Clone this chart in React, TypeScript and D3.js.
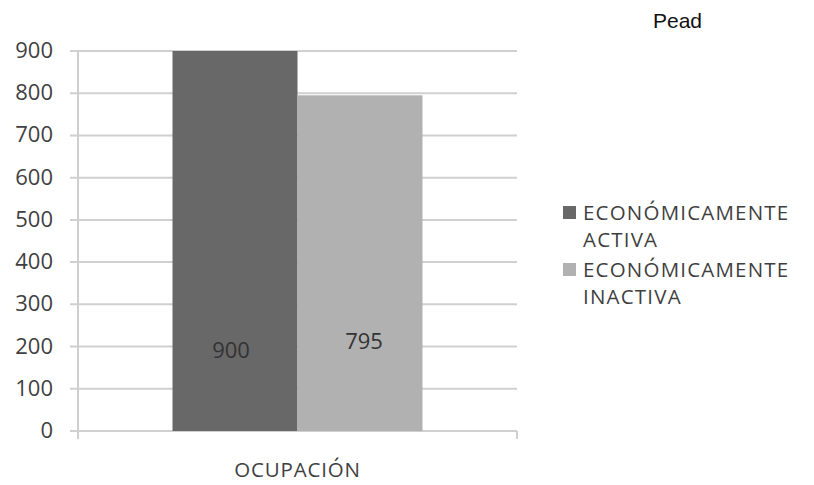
import React from "react";
import * as d3 from "d3";

// Chart data
const categories = ["OCUPACIÓN"];
const seriesNames = ["ECONÓMICAMENTE ACTIVA", "ECONÓMICAMENTE INACTIVA"];
const legendLines = [
  ["ECONÓMICAMENTE", "ACTIVA"],
  ["ECONÓMICAMENTE", "INACTIVA"],
];
const seriesValues = [900, 795];
const yTicks = [0, 100, 200, 300, 400, 500, 600, 700, 800, 900];
const seriesColors = ["#686868", "#b1b1b1"];

const W = 814;
const H = 485;
const FONT = "'Open Sans', 'DejaVu Sans', sans-serif";
const TEXT = "#3f3f3f";

export default function App() {
  const plotLeft = 78;
  const plotRight = 517;
  const plotTop = 51;
  const plotBottom = 431;

  const y = d3.scaleLinear().domain([0, 900]).range([plotBottom, plotTop]);
  const x = d3
    .scaleBand<string>()
    .domain(categories)
    .range([plotLeft, plotRight])
    .paddingOuter(0.378)
    .paddingInner(0);
  const xs = d3
    .scaleBand<string>()
    .domain(seriesNames)
    .range([0, x.bandwidth()])
    .padding(0);

  // data labels sit in the lower part of each bar
  const labelLevel = [192, 214];

  return (
    <div style={{ position: "absolute", left: 0, top: 0 }}>
      <svg width={W} height={H} style={{ display: "block", background: "#fff" }}>
        <text x={653} y={28} fontFamily="Arial, 'Liberation Sans', sans-serif" fontSize={21} fill="#111">
          Pead
        </text>

        {/* gridlines */}
        {yTicks.map((t) => (
          <line
            key={"g" + t}
            x1={plotLeft - 8}
            x2={plotRight}
            y1={y(t)}
            y2={y(t)}
            stroke="#d0d0d0"
            strokeWidth={2}
          />
        ))}
        {/* value axis line */}
        <line x1={plotLeft} x2={plotLeft} y1={plotTop} y2={plotBottom + 7} stroke="#cfcfcf" strokeWidth={2} />
        {/* category axis ticks */}
        {[plotLeft, plotRight].map((px) => (
          <line key={"ct" + px} x1={px} x2={px} y1={plotBottom} y2={plotBottom + 8} stroke="#cfcfcf" strokeWidth={2} />
        ))}

        {/* bars */}
        {categories.map((c) =>
          seriesNames.map((s, i) => {
            const bx = (x(c) as number) + (xs(s) as number);
            const bw = xs.bandwidth();
            const v = seriesValues[i];
            return (
              <g key={c + s}>
                <rect x={bx} y={y(v)} width={bw} height={y(0) - y(v)} fill={seriesColors[i]} />
                <text
                  x={bx + bw / 2 - 4 + i * 8}
                  y={y(labelLevel[i]) + 8}
                  textAnchor="middle"
                  fontFamily={FONT}
                  fontSize={22}
                  fill="#333"
                >
                  {v}
                </text>
              </g>
            );
          })
        )}

        {/* value axis labels */}
        {yTicks.map((t) => (
          <text
            key={"l" + t}
            x={53}
            y={y(t) + 7}
            textAnchor="end"
            fontFamily={FONT}
            fontSize={22}
            fill={TEXT}
          >
            {t}
          </text>
        ))}

        {/* category label */}
        {categories.map((c) => (
          <text
            key={"c" + c}
            x={(x(c) as number) + x.bandwidth() / 2}
            y={477}
            textAnchor="middle"
            fontFamily={FONT}
            fontSize={20.5}
            letterSpacing={0.8}
            fill={TEXT}
          >
            {c}
          </text>
        ))}

        {/* legend */}
        {legendLines.map((lines, i) => (
          <g key={"lg" + i} transform={`translate(563, ${206 + i * 57})`}>
            <rect x={0} y={0} width={13} height={13} fill={seriesColors[i]} />
            {lines.map((ln, j) => (
              <text
                key={j}
                x={20}
                y={14 + j * 27}
                fontFamily={FONT}
                fontSize={20.5}
                letterSpacing={1.2}
                fill={TEXT}
              >
                {ln}
              </text>
            ))}
          </g>
        ))}
      </svg>
    </div>
  );
}
